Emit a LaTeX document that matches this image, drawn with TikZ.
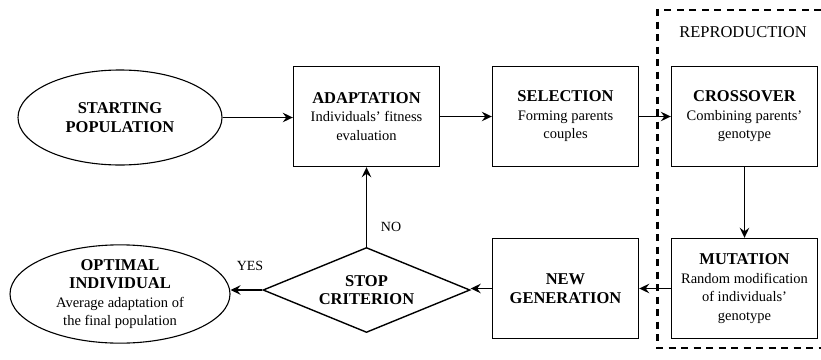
\documentclass[tikz,border=0pt]{standalone}
\usepackage{fontspec}
\setmainfont{Liberation Serif}
\usetikzlibrary{shapes.geometric,arrows.meta}

% bold headline inside a block, a little larger than the description
\newcommand\headline[1]{{\fontsize{16.5}{18.5}\selectfont\bfseries #1}}

\tikzset{
  base/.style={draw, line width=1.4pt, align=center, inner sep=0pt,
    font=\fontsize{14.5}{18.5}\selectfont},
  stepbox/.style={base, rectangle, minimum width=146pt, minimum height=100pt},
  oval/.style={base, ellipse, line width=1.1pt},
  decision/.style={base, diamond, minimum width=207pt, minimum height=85pt, aspect=2.4},
  flow/.style={line width=1.5pt, -{Stealth[length=10pt,width=9.5pt,inset=3.5pt]}},
  group/.style={line width=2.3pt, dash pattern=on 7pt off 5.5pt},
  tag/.style={font=\fontsize{14}{16}\selectfont, inner sep=0pt}
}

\begin{document}
\begin{tikzpicture}[x=1pt, y=-1pt]
  \useasboundingbox[fill=white] (0,0) rectangle (821,359);

  % reproduction group (open towards the right)
  \draw[group] (821,10) -- (657.5,10) -- (657.5,348) -- (821,348);
  \node[tag, font=\fontsize{16.5}{18}\selectfont] (repro) at (743,32) {REPRODUCTION};

  % main flow
  \node[oval, minimum width=204pt, minimum height=95pt] (start) at (120,117.5)
    {\headline{STARTING}\\\headline{POPULATION}};
  \node[stepbox] (adapt) at (366.5,116.5)
    {\headline{ADAPTATION}\\Individuals’ fitness\\evaluation};
  \node[stepbox] (sel) at (565.5,116.5)
    {\headline{SELECTION}\\Forming parents\\couples};
  \node[stepbox] (cross) at (744.5,116.5)
    {\headline{CROSSOVER}\\Combining parents’\\genotype};
  \node[stepbox] (mut) at (744.5,288.5)
    {\headline{MUTATION}\\Random modification\\of individuals’\\genotype};
  \node[stepbox] (newgen) at (565.5,288.5)
    {\headline{NEW}\\\headline{GENERATION}};
  \node[decision] (stop) at (366.5,290)
    {\headline{STOP}\\\headline{CRITERION}};
  \node[oval, minimum width=220pt, minimum height=86pt] (opt) at (120,294)
    {\headline{OPTIMAL}\\\headline{INDIVIDUAL}\\Average adaptation of\\the final population};

  % connectors
  \draw[flow] (start.east) -- (start.east -| adapt.west);
  \draw[flow] (adapt) -- (sel);
  \draw[flow] (sel) -- (cross);
  \draw[flow] (cross) -- (mut);
  \draw[flow] (mut.west) -- (mut.west -| newgen.east);
  \draw[flow] (newgen.west) -- (newgen.west -| stop.east);
  \draw[flow] (stop.north) -- (adapt.south);
  \draw[flow] (stop.west) -- (stop.west -| opt.east);

  % decision labels
  \node[tag] (no) at (391,227) {NO};
  \node[tag] (yes) at (250,266) {YES};
\end{tikzpicture}
\end{document}
